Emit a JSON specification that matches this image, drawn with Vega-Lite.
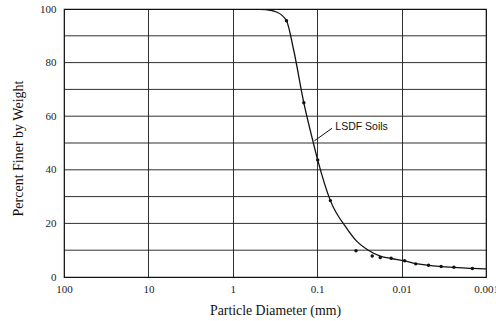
{
  "$schema": "https://vega.github.io/schema/vega-lite/v6.json",
  "width": 422,
  "height": 268,
  "autosize": "none",
  "padding": {"left": 64, "top": 9, "right": 10, "bottom": 44},
  "background": "white",
  "config": {
    "view": {"stroke": "#111", "strokeWidth": 1.2},
    "font": "Liberation Serif"
  },
  "datasets": {
    "grid": [
      {"p": 10}, {"p": 20}, {"p": 30}, {"p": 40}, {"p": 50},
      {"p": 60}, {"p": 70}, {"p": 80}, {"p": 90}
    ],
    "curve": [
      {"d": 1.0, "p": 100},
      {"d": 0.6, "p": 100},
      {"d": 0.409, "p": 99.8},
      {"d": 0.298, "p": 98.8},
      {"d": 0.231, "p": 95.6},
      {"d": 0.19, "p": 84.7},
      {"d": 0.144, "p": 65.0},
      {"d": 0.113, "p": 51.0},
      {"d": 0.0987, "p": 43.7},
      {"d": 0.0698, "p": 28.5},
      {"d": 0.0443, "p": 18.0},
      {"d": 0.0338, "p": 13.3},
      {"d": 0.0248, "p": 10.0},
      {"d": 0.0179, "p": 7.8},
      {"d": 0.0133, "p": 6.9},
      {"d": 0.0092, "p": 6.0},
      {"d": 0.0068, "p": 5.0},
      {"d": 0.0048, "p": 4.4},
      {"d": 0.0034, "p": 3.9},
      {"d": 0.0024, "p": 3.6},
      {"d": 0.00145, "p": 3.2},
      {"d": 0.001, "p": 3.0}
    ],
    "points": [
      {"d": 0.231, "p": 95.6},
      {"d": 0.144, "p": 65.0},
      {"d": 0.0987, "p": 43.7},
      {"d": 0.0698, "p": 28.5},
      {"d": 0.0347, "p": 9.8},
      {"d": 0.0223, "p": 7.8},
      {"d": 0.0179, "p": 7.3},
      {"d": 0.0133, "p": 7.0},
      {"d": 0.0092, "p": 6.1},
      {"d": 0.0068, "p": 4.9},
      {"d": 0.0048, "p": 4.4},
      {"d": 0.0034, "p": 3.9},
      {"d": 0.0024, "p": 3.6},
      {"d": 0.00145, "p": 3.2}
    ],
    "leader": [
      {"d": 0.0667, "p": 55.5, "d2": 0.108, "p2": 50.8}
    ],
    "label": [
      {"d": 0.061, "p": 56.0, "text": "LSDF Soils"}
    ]
  },
  "layer": [
    {
      "data": {"name": "grid"},
      "mark": {"type": "rule", "color": "#1a1a1a", "strokeWidth": 1, "opacity": 0.9},
      "encoding": {
        "y": {"field": "p", "type": "quantitative"}
      }
    },
    {
      "data": {"name": "curve"},
      "mark": {"type": "line", "interpolate": "monotone", "color": "#111", "strokeWidth": 1.3, "clip": true},
      "encoding": {
        "x": {
          "field": "d", "type": "quantitative",
          "scale": {"type": "log", "domain": [0.001, 100], "reverse": true, "nice": false},
          "axis": {
            "values": [100, 10, 1, 0.1, 0.01, 0.001],
            "format": "~g",
            "grid": true, "gridColor": "#1a1a1a", "gridOpacity": 0.9, "gridWidth": 1,
            "ticks": false, "domain": false,
            "labelFont": "Liberation Serif", "labelFontSize": 11, "labelColor": "#222",
            "labelPadding": 6, "labelBound": false, "labelOverlap": false, "labelFlush": false,
            "title": "Particle Diameter (mm)",
            "titleFont": "Liberation Serif", "titleFontSize": 13.8, "titleFontWeight": "normal", "titleColor": "#111",
            "titleX": 211, "titleY": 26, "titleBaseline": "top"
          }
        },
        "y": {
          "field": "p", "type": "quantitative",
          "scale": {"domain": [0, 100], "nice": false},
          "axis": {
            "values": [0, 20, 40, 60, 80, 100],
            "grid": false,
            "ticks": false, "domain": false,
            "labelFont": "Liberation Serif", "labelFontSize": 11, "labelColor": "#222",
            "labelPadding": 8,
            "title": "Percent Finer by Weight",
            "titleFont": "Liberation Serif", "titleFontSize": 14, "titleFontWeight": "normal", "titleColor": "#111",
            "titleX": -39, "titleY": 139
          }
        },
        "order": {"field": "d", "sort": "descending"}
      }
    },
    {
      "data": {"name": "points"},
      "mark": {"type": "point", "filled": true, "color": "#111", "size": 12, "opacity": 1},
      "encoding": {
        "x": {"field": "d", "type": "quantitative"},
        "y": {"field": "p", "type": "quantitative"}
      }
    },
    {
      "data": {"name": "leader"},
      "mark": {"type": "rule", "color": "#111", "strokeWidth": 1},
      "encoding": {
        "x": {"field": "d", "type": "quantitative"},
        "y": {"field": "p", "type": "quantitative"},
        "x2": {"field": "d2"},
        "y2": {"field": "p2"}
      }
    },
    {
      "data": {"name": "label"},
      "mark": {"type": "text", "align": "left", "baseline": "middle", "font": "Liberation Sans", "fontSize": 10.5, "color": "#111"},
      "encoding": {
        "x": {"field": "d", "type": "quantitative"},
        "y": {"field": "p", "type": "quantitative"},
        "text": {"field": "text"}
      }
    }
  ]
}
